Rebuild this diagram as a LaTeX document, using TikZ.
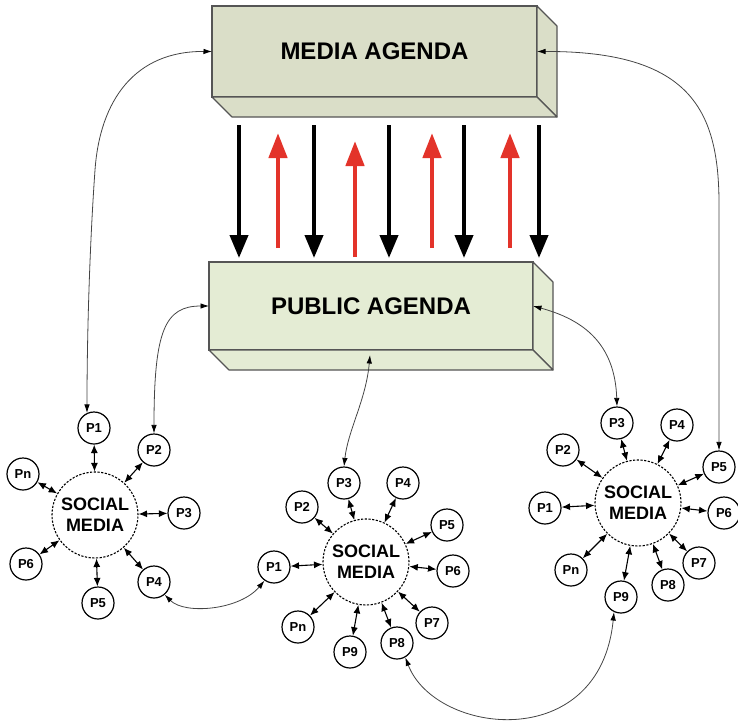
\documentclass[tikz,border=0pt]{standalone}
\usepackage{fontspec}
\setmainfont{Liberation Sans}
\usetikzlibrary{arrows.meta,calc}
\definecolor{mediafill}{HTML}{DADEC8}
\definecolor{publicfill}{HTML}{E4ECD4}
\definecolor{boxline}{HTML}{555555}
\definecolor{redarrow}{HTML}{E3332A}
\definecolor{curveline}{HTML}{444444}
\begin{document}
\begin{tikzpicture}[x=1pt,y=-1pt,
  agenda/.style={draw=boxline, line width=1.1pt, outer sep=0pt, minimum width=325pt, minimum height=91pt, font=\fontsize{24}{28}\selectfont\bfseries},
  face/.style={draw=boxline, line width=1.1pt, line join=round},
  downarrow/.style={line width=4pt, -{Triangle[length=23pt,width=18pt]}},
  uparrow/.style={redarrow, line width=4.5pt, -{Triangle[length=25pt,width=18pt]}},
  social/.style={circle, draw, dash pattern=on 2.2pt off 1.5pt, line width=1.1pt, minimum size=86pt, inner sep=0pt, align=center, font=\fontsize{18}{21}\selectfont\bfseries},
  person/.style={circle, draw, line width=1.2pt, minimum size=32pt, inner sep=0pt, font=\fontsize{13}{15}\selectfont\bfseries},
  link/.style={line width=1.1pt, {Latex[length=8.5pt,width=7pt]}-{Latex[length=8.5pt,width=7pt]}},
  curve/.style={curveline, line width=0.8pt, {Latex[length=8.5pt,width=5.5pt,color=black]}-{Latex[length=8.5pt,width=5.5pt,color=black]}}
]
\useasboundingbox (0,0) rectangle (738,720);

% Media agenda box
\node[agenda, fill=mediafill] (ma) at (374.5,51.5) {MEDIA AGENDA};
\filldraw[face, fill=mediafill] (ma.north east) -- ++(20,20) -- ++(0,91) -- (ma.south east) -- cycle;
\filldraw[face, fill=mediafill] (ma.south west) -- ++(20,20) -- ++(325,0) -- (ma.south east) -- cycle;

% Public agenda box
\node[agenda, fill=publicfill, minimum width=324pt, minimum height=88pt] (pa) at (371,306) {PUBLIC AGENDA};
\filldraw[face, fill=publicfill] (pa.north east) -- ++(20,20) -- ++(0,88) -- (pa.south east) -- cycle;
\filldraw[face, fill=publicfill] (pa.south west) -- ++(20,20) -- ++(324,0) -- (pa.south east) -- cycle;

% arrows between agendas
\foreach \x in {239,314,389,464,539} \draw[downarrow] (\x,125) -- (\x,258);
\draw[uparrow] (278,248) -- (278,133);
\draw[uparrow] (355,257) -- (355,141);
\draw[uparrow] (432,248) -- (432,133);
\draw[uparrow] (510,248) -- (510,133);

% cluster A
\node[social] (cA) at (95,515) {SOCIAL\\MEDIA};
\foreach \n/\x/\y in {1/94/428, 2/154/450, 3/184/513, 4/154/582, 5/98/603, 6/26/564, n/23/474} {
  \node[person] (pA\n) at (\x,\y) {P\n};
  \draw[link] (cA) -- (pA\n);
}

% cluster B
\node[social] (cB) at (366,562) {SOCIAL\\MEDIA};
\foreach \n/\x/\y in {1/274/567, 2/302/507, 3/344/483, 4/403/483, 5/447/525, 6/453/571, 7/432/623, 8/397/643, 9/350/652, n/298/627} {
  \node[person] (pB\n) at (\x,\y) {P\n};
  \draw[link] (cB) -- (pB\n);
}

% cluster C
\node[social] (cC) at (638,503) {SOCIAL\\MEDIA};
\foreach \n/\x/\y in {1/545/508, 2/563/450, 3/617/423, 4/677/425, 5/719/467, 6/724/513, 7/699/563, 8/668/585, 9/621/597, n/571/570} {
  \node[person] (pC\n) at (\x,\y) {P\n};
  \draw[link] (cC) -- (pC\n);
}

% long curved connectors
\draw[curve] (ma.west) .. controls (135,51) and (100,100) .. (95,170) .. controls (90,240) and (87,330) .. (pA1.115);
\draw[curve] (ma.east) .. controls (690,51) and (718,110) .. (719,200) -- (pC5.north);
\draw[curve] (pa.west) .. controls (165,306) and (154,330) .. (pA2.north);
\draw[curve] ($(pa.south)+(-1,5)$) .. controls (366,400) and (348,430) .. (pB3.north);
\draw[curve] (pa.east) .. controls (585,320) and (615,345) .. (pC3.north);
\draw[curve] (pA4.-50) .. controls (185,615) and (240,610) .. (pB1.-125);
\draw[curve] (pB8.-60) .. controls (435,735) and (600,755) .. (pC9.-115);
\end{tikzpicture}
\end{document}
